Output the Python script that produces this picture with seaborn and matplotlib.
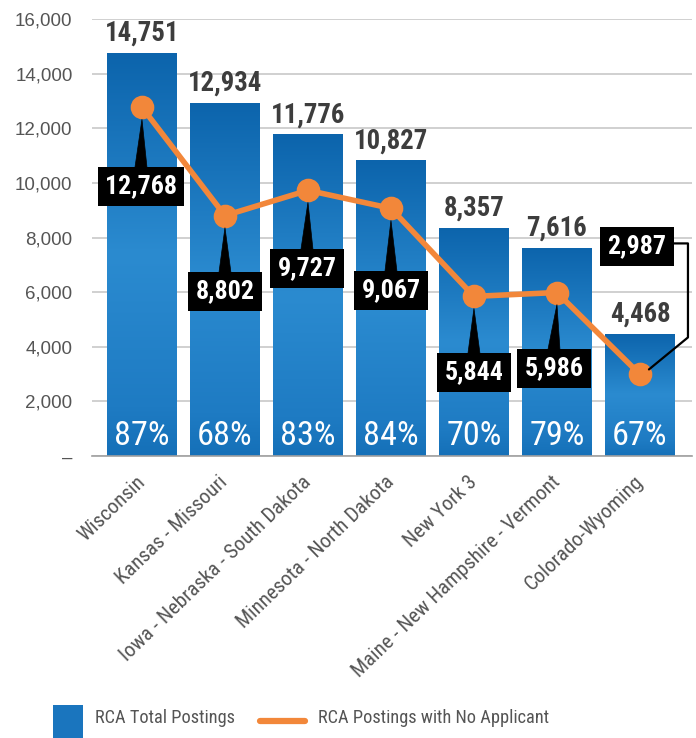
import numpy as np
import pandas as pd
import matplotlib
matplotlib.use("Agg")
import matplotlib.pyplot as plt
import seaborn as sns
from matplotlib import font_manager as fm
from matplotlib.font_manager import FontProperties
from matplotlib.textpath import TextPath
from matplotlib.patches import Polygon, Rectangle
from matplotlib.lines import Line2D
from matplotlib.transforms import IdentityTransform, ScaledTranslation
from matplotlib.colors import LinearSegmentedColormap

# ---------------- data ----------------
regions = ["Wisconsin", "Kansas - Missouri", "Iowa - Nebraska - South Dakota",
           "Minnesota - North Dakota", "New York 3",
           "Maine - New Hampshire - Vermont", "Colorado-Wyoming"]
total_postings = [14751, 12934, 11776, 10827, 8357, 7616, 4468]
no_applicant = [12768, 8802, 9727, 9067, 5844, 5986, 2987]
pct_labels = ["87%", "68%", "83%", "84%", "70%", "79%", "67%"]
y_ticks = [0, 2000, 4000, 6000, 8000, 10000, 12000, 14000, 16000]
y_tick_labels = ["\u2013", "2,000", "4,000", "6,000", "8,000", "10,000",
                 "12,000", "14,000", "16,000"]
legend_labels = ["RCA Total Postings", "RCA Postings with No Applicant"]

# ---------------- layout / style ----------------
# callout box centre offsets (pixels) relative to each line point
callout_offsets = [(-1, -79), (0, -76), (-1, -78), (0, -82), (0, -76), (-3, -76), (-3, 128)]
ORANGE = "#F2873A"
BLUE = "#1A75BE"
GREY_TXT = "#555555"
REG = ["Liberation Sans", "DejaVu Sans"]


def pick_condensed():
    fl = fm.fontManager.ttflist
    names = {f.name for f in fl}
    for n in ["Liberation Sans Narrow", "Roboto Condensed", "Arial Narrow",
              "Open Sans Condensed", "Noto Sans Condensed", "DejaVu Sans Condensed"]:
        if n in names:
            return {"family": n, "stretch": "normal"}
    for want in ["condensed", "semi-condensed"]:
        for fam in ["Roboto", "Noto Sans", "Open Sans", "DejaVu Sans", "Liberation Sans"]:
            for f in fl:
                if f.name == fam and str(f.stretch) == want:
                    return {"family": fam, "stretch": want}
    return {"family": "Liberation Sans", "stretch": "normal"}


COND = pick_condensed()


def cprop(size, weight="normal"):
    return FontProperties(family=[COND["family"], "DejaVu Sans"], stretch=COND["stretch"],
                          weight=weight, size=size)


def fit_size(sample, target_px, weight="normal", base=20.0):
    ext = TextPath((0, 0), sample, prop=cprop(base, weight)).get_extents()
    return base * target_px / (ext.width * 100 / 72)


SZ_VALUE = fit_size("14,751", 68, "bold")
SZ_CALL = fit_size("12,768", 69, "bold")
SZ_PCT = fit_size("87%", 52)
SZ_LEG = fit_size("RCA Postings with No Applicant", 230)
SZ_X = fit_size("Iowa - Nebraska - South Dakota", 255)

sns.set_style("white")
plt.rcParams["font.family"] = REG

W, H = 696, 738
fig = plt.figure(figsize=(W / 100, H / 100), dpi=100)
ax = fig.add_axes([92 / W, 1 - 456 / H, (692 - 92) / W, (456 - 19) / H])

df = pd.DataFrame({"region": regions, "total": total_postings, "none": no_applicant})

sns.barplot(data=df, x="region", y="total", color=BLUE, width=0.84,
            saturation=1, ax=ax, zorder=2)

# gradient fill for the bars
cmap = LinearSegmentedColormap.from_list(
    "bars", [(0.0, "#1570B8"), (0.12, "#1E7BC3"), (0.5, "#2B8BD0"), (1.0, "#0C64AC")])
grad = np.linspace(0, 1, 256).reshape(-1, 1)
for p in list(ax.patches):
    x0, y0, w, h = p.get_x(), p.get_y(), p.get_width(), p.get_height()
    im = ax.imshow(grad, extent=[x0, x0 + w, y0, y0 + h], origin="lower",
                   cmap=cmap, aspect="auto", zorder=2, interpolation="bicubic")
    im.set_clip_path(p)
    p.set_facecolor("none")
    p.set_edgecolor("none")

sns.pointplot(data=df, x="region", y="none", color=ORANGE, errorbar=None,
              markers="o", linestyles="-", linewidth=4, markersize=14,
              ax=ax, zorder=4)

ax.set_xlim(-0.602, 6.627)
ax.set_ylim(0, 16000)
ax.set_aspect("auto")

# axes styling
ax.set_yticks(y_ticks)
ax.set_yticklabels(y_tick_labels, fontsize=13.5, color=GREY_TXT)
ax.set_xticks(range(len(regions)))
ax.set_xticklabels(regions, rotation=44, ha="right", va="center", rotation_mode="anchor",
                   color=GREY_TXT, fontproperties=cprop(SZ_X))
offset = ScaledTranslation(9 / 100, 0, fig.dpi_scale_trans)
for lab in ax.get_xticklabels():
    lab.set_transform(lab.get_transform() + offset)
ax.tick_params(axis="y", length=0, pad=14)
ax.tick_params(axis="x", length=6.5, width=1, color="#A0A0A0", pad=10, direction="out")
ax.set_xlabel("")
ax.set_ylabel("")
ax.yaxis.grid(True, color="#C4C4C4", lw=1.1)
ax.xaxis.grid(False)
ax.set_axisbelow(True)
for s in ["left", "right", "top"]:
    ax.spines[s].set_visible(False)
ax.spines["bottom"].set_color("#A0A0A0")
ax.spines["bottom"].set_linewidth(1.2)

# value labels above bars and percentages inside bars
for i, v in enumerate(total_postings):
    ax.annotate(f"{v:,}", (i, v), xytext=(0, 12), textcoords="offset pixels",
                ha="center", va="baseline", fontproperties=cprop(SZ_VALUE, "bold"),
                color="#3D3D3D", zorder=3)
    ax.annotate(pct_labels[i], (i, 0), xytext=(0, 11), textcoords="offset pixels",
                ha="center", va="baseline", fontproperties=cprop(SZ_PCT),
                color="white", zorder=3)

# callouts for the no-applicant values
for i, v in enumerate(no_applicant):
    dx, dy = callout_offsets[i]
    ax.annotate(f"{v:,}", (i, v), xytext=(dx, dy), textcoords="offset pixels",
                ha="center", va="center", fontproperties=cprop(SZ_CALL, "bold"),
                color="white", zorder=7,
                bbox=dict(boxstyle="square,pad=0.28", fc="black", ec="none"))
    px, py = ax.transData.transform((i, v))
    if dy < 0:
        verts = [(px + dx - 6, py + dy + 19), (px + dx + 6, py + dy + 19), (px, py - 12)]
        fig.add_artist(Polygon(verts, closed=True, fc="black", ec="black", lw=0.5,
                               transform=IdentityTransform(), zorder=6))
    else:
        xs = [px + dx + 35, px + 48, px + 48, px + 9]
        ys = [py + dy + 3, py + dy + 3, py + 37, py + 5]
        fig.add_artist(Line2D(xs, ys, color="black", lw=1.6,
                              transform=IdentityTransform(), zorder=6))

# legend (drawn manually to match handle shapes)
fig.add_artist(Rectangle((53 / W, 0), 30 / W, 33 / H, transform=fig.transFigure,
                         fc=BLUE, ec="none"))
fig.text(95 / W, 15 / H, legend_labels[0], ha="left", va="baseline",
         fontproperties=cprop(SZ_LEG), color=GREY_TXT)
fig.add_artist(Line2D([260 / W, 305 / W], [17 / H, 17 / H], transform=fig.transFigure,
                      color=ORANGE, lw=4.5, solid_capstyle="round"))
fig.text(318 / W, 15 / H, legend_labels[1], ha="left", va="baseline",
         fontproperties=cprop(SZ_LEG), color=GREY_TXT)

fig.savefig("out.png", dpi=100)
